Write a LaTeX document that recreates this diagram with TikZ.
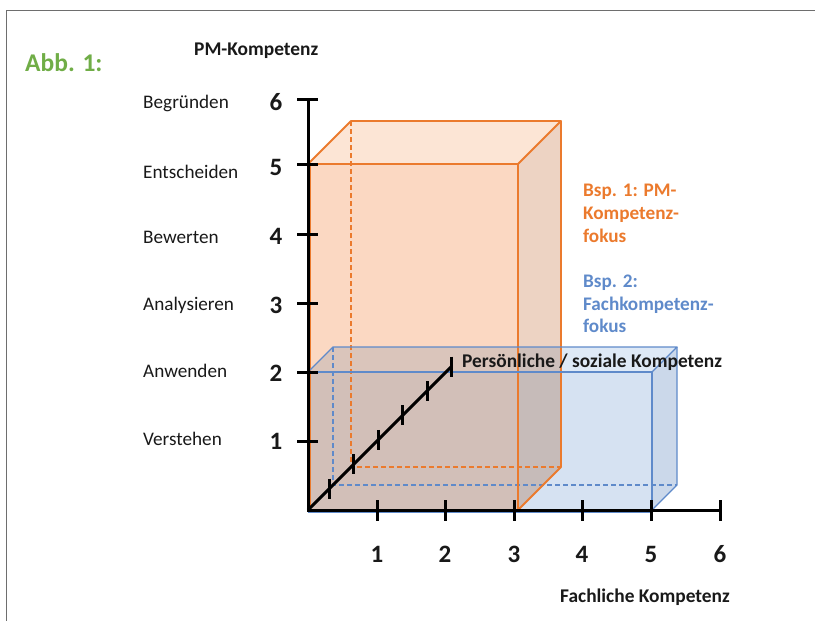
\documentclass[tikz,border=0pt]{standalone}
\usepackage{fontspec}
\setmainfont{Carlito}
\definecolor{org}{RGB}{235,122,45}
\definecolor{blu}{RGB}{95,138,202}
\definecolor{grn}{RGB}{112,173,71}
\definecolor{txt}{RGB}{25,25,25}
\definecolor{ofront}{RGB}{251,216,194}
\definecolor{otop}{RGB}{252,229,213}
\definecolor{oside}{RGB}{237,211,195}
\definecolor{bfront}{RGB}{214,226,242}
\definecolor{btop}{RGB}{222,233,246}
\definecolor{bside}{RGB}{203,216,234}
\definecolor{frame}{RGB}{110,110,110}
\begin{document}
\begin{tikzpicture}[x=1pt,y=-1pt,
  lbl/.style={font=\fontsize{19.2}{22}\selectfont, text=txt, anchor=base west, inner sep=0pt},
  blbl/.style={font=\fontsize{19.4}{22}\selectfont\bfseries, text=txt, anchor=base west, inner sep=0pt},
  olbl/.style={font=\fontsize{19.2}{22}\selectfont\bfseries, text=org, anchor=base west, inner sep=0pt},
  bllbl/.style={font=\fontsize{19.2}{22}\selectfont\bfseries, text=blu, anchor=base west, inner sep=0pt},
  num/.style={font=\fontsize{25}{27}\selectfont\bfseries, text=txt, anchor=base, inner sep=0pt},
  axisline/.style={line width=3pt, draw=black},
  tickline/.style={line width=3pt, draw=black},
  oedge/.style={draw=org, line width=1.8pt, line join=round},
  bedge/.style={draw=blu, line width=1.4pt, line join=round},
  odash/.style={draw=org, line width=1.3pt, dash pattern=on 5pt off 3pt},
  bdash/.style={draw=blu, line width=1.2pt, dash pattern=on 5pt off 3pt},
]
\useasboundingbox (0,0) rectangle (815,621);
\draw[frame, line width=1pt] (6,621) -- (6,10) -- (815,10);

% named corners
\coordinate (O) at (308,510);
% orange box
\coordinate (of1) at (518,510);
\coordinate (of2) at (518,164);
\coordinate (of3) at (308,164);
\coordinate (ob0) at (351,467);
\coordinate (ob1) at (561,467);
\coordinate (ob2) at (561,121);
\coordinate (ob3) at (351,121);
% blue box
\coordinate (bf1) at (652,510);
\coordinate (bf2) at (652,372);
\coordinate (bf3) at (308,372);
\coordinate (bb0) at (333,485);
\coordinate (bb1) at (677,485);
\coordinate (bb2) at (677,347);
\coordinate (bb3) at (333,347);

% orange fills
\fill[ofront] (O) rectangle (of2);
\fill[otop] (of3) -- (ob3) -- (ob2) -- (of2) -- cycle;
\fill[oside] (of1) -- (ob1) -- (ob2) -- (of2) -- cycle;
% blue fills (multiply)
\begin{scope}[blend mode=multiply]
\fill[bfront] (O) rectangle (bf2);
\fill[btop] (bf3) -- (bb3) -- (bb2) -- (bf2) -- cycle;
\fill[bside] (bf1) -- (bb1) -- (bb2) -- (bf2) -- cycle;
\end{scope}

% hidden edges
\draw[odash] (ob3) -- (ob0) -- (ob1);
\draw[bdash] (bb3) -- (bb0) -- (bb1);

% orange edges
\draw[oedge] ([xshift=2pt]O) -- ([xshift=2pt]of3) -- (of2) -- (of1);
\draw[oedge] (of3) -- (ob3) -- (ob2) -- (of2);
\draw[oedge] (of1) -- (ob1) -- (ob2);
% blue edges
\draw[bedge] ([yshift=-2pt]O) -- ([yshift=-2pt]bf1) -- (bf2) -- (bf3);
\draw[bedge] (bf3) -- (bb3) -- (bb2) -- (bf2);
\draw[bedge] (bf1) -- (bb1) -- (bb2);

% axes
\coordinate (ytop) at (308,99);
\coordinate (xend) at (720,510);
\draw[axisline] (ytop) -- (O) -- (xend);
\foreach \yy in {99,164,234,303,372,441}{
  \draw[tickline] (297,\yy) -- (318,\yy);
}
\foreach \xx in {377,445,514,582,651,720}{
  \draw[tickline] (\xx,500) -- (\xx,521);
}
% depth axis
\coordinate (dend) at (451,367);
\draw[axisline] (O) -- (dend);
\foreach \k in {1,...,6}{
  \draw[tickline] ({305+24.4*\k},{503-24.4*\k}) -- ({305+24.4*\k},{523-24.4*\k});
}

% y numbers
\node[num] (n6) at (276,110) {6};
\node[num] (n5) at (276,175) {5};
\node[num] (n4) at (276,244) {4};
\node[num] (n3) at (276,313) {3};
\node[num] (n2) at (276,381) {2};
\node[num] (n1) at (276,449) {1};
% x numbers
\node[num] (x1) at (377,562) {1};
\node[num] (x2) at (445,562) {2};
\node[num] (x3) at (514,562) {3};
\node[num] (x4) at (582,562) {4};
\node[num] (x5) at (651,562) {5};
\node[num] (x6) at (720,562) {6};

% y labels
\node[lbl] (l6) at (143,108) {Begründen};
\node[lbl] (l5) at (143,178) {Entscheiden};
\node[lbl] (l4) at (143,243) {Bewerten};
\node[lbl] (l3) at (143,310) {Analysieren};
\node[lbl] (l2) at (143,377) {Anwenden};
\node[lbl] (l1) at (143,445) {Verstehen};

% titles
\node[font=\fontsize{25.5}{28}\selectfont\bfseries, text=grn, anchor=base west, inner sep=0pt] (abb) at (25,71) {Abb. 1:};
\node[blbl] (pm) at (194,56) {PM-Kompetenz};
\node[blbl] (fk) at (560,602) {Fachliche Kompetenz};
\node[blbl] (ps) at (462,367) {Persönliche / soziale Kompetenz};

% legend texts
\node[olbl] (b1a) at (583,196) {Bsp. 1: PM-};
\node[olbl] (b1b) at (583,219) {Kompetenz-};
\node[olbl] (b1c) at (583,242) {fokus};
\node[bllbl] (b2a) at (583,287) {Bsp. 2:};
\node[bllbl] (b2b) at (583,310) {Fachkompetenz-};
\node[bllbl] (b2c) at (583,332) {fokus};
\end{tikzpicture}
\end{document}
